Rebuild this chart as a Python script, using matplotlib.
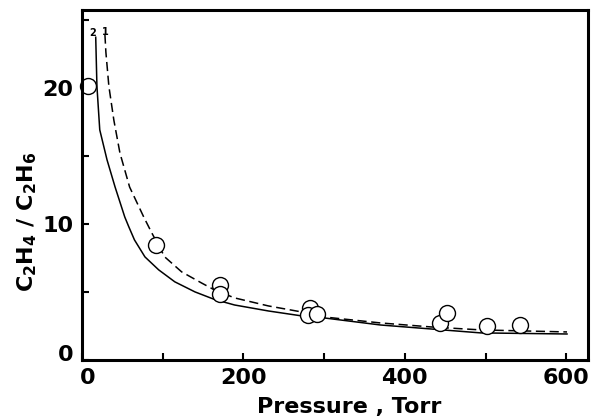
import matplotlib
matplotlib.use('Agg')
import matplotlib.pyplot as plt
import matplotlib.transforms as mtransforms

plt.rcParams['font.family'] = ['DejaVu Sans']
plt.rcParams['font.weight'] = 'bold'
plt.rcParams['mathtext.fontset'] = 'custom'
plt.rcParams['mathtext.rm'] = 'DejaVu Sans:bold'
plt.rcParams['mathtext.default'] = 'rm'

# measured points (pressure, ratio)
p_obs = [8, 92, 171, 171, 282, 280, 291, 444, 452, 502, 543]
r_obs = [20.1, 8.45, 5.5, 4.85, 3.8, 3.3, 3.35, 2.7, 3.45, 2.5, 2.55]

# curve 2 (solid)
p_c2 = [17, 18.5, 22, 31, 41, 53, 58, 65, 78, 95, 115, 140, 164, 189, 231, 272, 300, 370, 432, 494, 601]
r_c2 = [23.7, 20.1, 16.9, 14.7, 12.7, 10.5, 9.78, 8.82, 7.57, 6.62, 5.74, 5.0, 4.45, 4.04, 3.6, 3.24, 3.09, 2.57, 2.28, 1.99, 1.91]

# curve 1 (dashed)
p_c1 = [28.4, 29.6, 33.3, 39.5, 47, 59, 76.5, 86.4, 102.5, 123.5, 148, 164, 189, 231, 272, 300, 370, 432, 494, 601]
r_c1 = [23.9, 22.6, 20.1, 17.6, 15.2, 12.7, 10.5, 9.34, 7.57, 6.47, 5.66, 5.15, 4.56, 3.97, 3.53, 3.16, 2.72, 2.43, 2.21, 2.06]

fig = plt.figure(figsize=(5.94, 4.16), dpi=100)
ax = fig.add_axes([82/594, 56/416, 506/594, 350/416])

ax.plot(p_c2, r_c2, color='black', lw=1.1)
ax.plot(p_c1, r_c1, color='black', lw=1.1, ls=(0, (6, 3)))
ax.plot(p_obs, r_obs, 'o', ms=11.5, mfc='white', mec='black', mew=1.0, clip_on=False)

ax.text(13.6, 24.0, '2', fontsize=7, ha='center', va='center')
ax.text(28.4, 24.1, '1', fontsize=7, ha='center', va='center')

ax.set_xlim(2.5, 627)
ax.set_ylim(0, 25.7)

ax.set_xticks([0, 200, 400, 600])
ax.set_xticks([100, 300, 500], minor=True)
ax.set_yticks([0, 10, 20])
ax.set_yticks([5, 15, 25], minor=True)
ax.tick_params(which='both', direction='in', length=5, width=1.5, labelsize=16, pad=6)

for s in ax.spines.values():
    s.set_linewidth(2.2)

ax.set_xlabel('Pressure , Torr', fontsize=16, fontweight='bold')
ax.xaxis.set_label_coords(0.528, -0.105)
ax.set_ylabel('C$_2$H$_4$ / C$_2$H$_6$', fontsize=16, fontweight='bold')
ax.yaxis.set_label_coords(-0.085, 0.394)

fig.canvas.draw()
lx = ax.get_xticklabels()[0]
lx.set_transform(lx.get_transform() + mtransforms.ScaledTranslation(6/100, 0, fig.dpi_scale_trans))
ly = ax.get_yticklabels()[0]
ly.set_transform(ly.get_transform() + mtransforms.ScaledTranslation(0, 7/100, fig.dpi_scale_trans))

fig.savefig('out.png', dpi=100)
